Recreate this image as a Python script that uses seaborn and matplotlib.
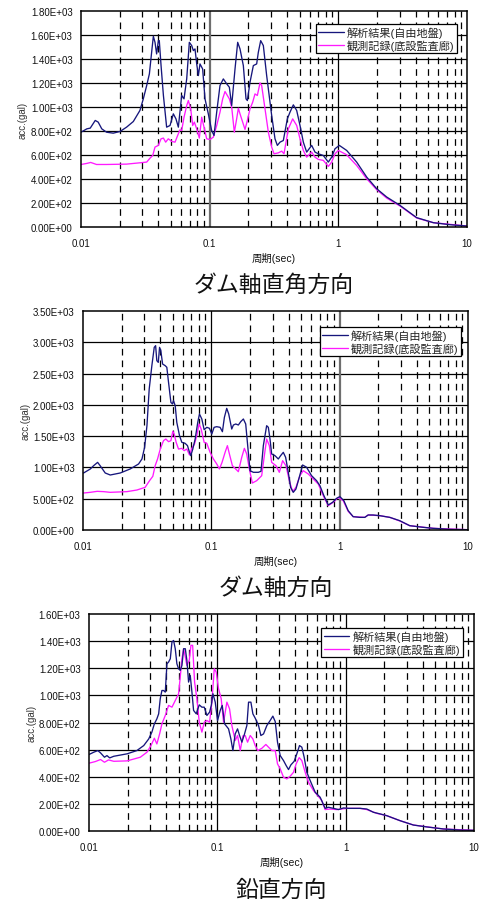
import matplotlib
matplotlib.use("Agg")
import matplotlib.pyplot as plt
from matplotlib.ticker import FixedLocator, FormatStrFormatter, NullLocator
import seaborn as sns

# ---- response spectra: period (sec) and acceleration (gal) ----
# dam cross-axis direction
PERP_T_SIM = [0.0100, 0.0111, 0.0118, 0.0129, 0.0136, 0.0145, 0.0158, 0.0178, 0.0201, 0.0226,
              0.0255, 0.0287, 0.0305, 0.0324, 0.0340, 0.0354, 0.0365, 0.0376, 0.0387, 0.0399,
              0.0406, 0.0419, 0.0437, 0.0463, 0.0492, 0.0522, 0.0547, 0.0571, 0.0606, 0.0632,
              0.0663, 0.0695, 0.0725, 0.0747, 0.0769, 0.0793, 0.0817, 0.0841, 0.0882, 0.0920,
              0.0976, 0.1036, 0.1081, 0.1134, 0.1203, 0.1277, 0.1356, 0.1422, 0.1483, 0.1574,
              0.1651, 0.1721, 0.1827, 0.1916, 0.1963, 0.2059, 0.2185, 0.2319, 0.2389, 0.2492,
              0.2613, 0.2773, 0.3034, 0.3219, 0.3357, 0.3521, 0.3737, 0.4015, 0.4211, 0.4470,
              0.4746, 0.5037, 0.5346, 0.5675, 0.6205, 0.6588, 0.6993, 0.7645, 0.8362, 0.8876,
              0.9421, 1.018, 1.161, 1.388, 1.661, 1.986, 2.375, 3.015, 4.063, 5.474, 7.379, 10.0]
PERP_A_SIM = [790, 818, 824, 888, 874, 818, 790, 782, 796, 832,
              879, 971, 1068, 1179, 1276, 1456, 1589, 1539, 1442, 1553,
              1553, 1345, 1096, 832, 846, 943, 901, 832, 1096, 1068,
              1234, 1539, 1512, 1470, 1484, 1359, 1262, 1359, 1317, 1068,
              943, 804, 763, 957, 1179, 1234, 1193, 1165, 1012, 1317,
              1539, 1484, 1345, 1068, 1054, 1207, 1345, 1359, 1456, 1553,
              1512, 1262, 929, 735, 680, 707, 721, 901, 957, 1018,
              971, 846, 707, 624, 680, 624, 610, 596, 541, 582,
              652, 680, 638, 541, 416, 319, 250, 180, 78, 36, 19, 8]
PERP_T_OBS = [0.0100, 0.0111, 0.0119, 0.0132, 0.0158, 0.0226, 0.0287, 0.0324, 0.0344, 0.0361,
              0.0376, 0.0399, 0.0419, 0.0437, 0.0455, 0.0477, 0.0507, 0.0538, 0.0564, 0.0588,
              0.0606, 0.0632, 0.0663, 0.0683, 0.0712, 0.0738, 0.0760, 0.0793, 0.0831, 0.0867,
              0.0904, 0.0948, 0.1006, 0.1068, 0.1134, 0.1203, 0.1262, 0.1316, 0.1372, 0.1422,
              0.1483, 0.1555, 0.1621, 0.1671, 0.1721, 0.1805, 0.1882, 0.1963, 0.2059, 0.2159,
              0.2251, 0.2347, 0.2462, 0.2536, 0.2692, 0.2858, 0.3034, 0.3162, 0.3418, 0.3628,
              0.3781, 0.4088, 0.4417, 0.4746, 0.5037, 0.5346, 0.5675, 0.6205, 0.6588, 0.6993,
              0.7645, 0.8362, 0.8876, 0.9421, 1.000, 1.161, 1.388, 1.661, 1.986, 2.375,
              3.015, 4.063, 5.474, 10.0]
PERP_A_OBS = [521, 530, 538, 521, 521, 524, 535, 541, 574, 596,
              666, 680, 735, 741, 707, 735, 713, 707, 763, 810,
              804, 915, 1012, 1054, 985, 846, 874, 818, 741, 915,
              832, 735, 729, 749, 846, 957, 1068, 1129, 1096, 1068,
              999, 790, 901, 990, 943, 874, 813, 888, 985, 1040,
              1109, 1096, 1201, 1179, 985, 790, 666, 610, 618, 632,
              610, 818, 901, 846, 735, 638, 582, 624, 582, 563,
              555, 505, 541, 610, 638, 602, 513, 402, 311, 241,
              175, 75, 36, 8]

# dam axis direction
AXIAL_T_SIM = [0.0101, 0.0114, 0.0121, 0.0130, 0.0136, 0.0149, 0.0163, 0.0195, 0.0233, 0.0271,
               0.0288, 0.0302, 0.0315, 0.0328, 0.0344, 0.0359, 0.0368, 0.0376, 0.0386, 0.0395,
               0.0404, 0.0417, 0.0437, 0.0450, 0.0464, 0.0484, 0.0498, 0.0507, 0.0523, 0.0538,
               0.0565, 0.0589, 0.0625, 0.0652, 0.0676, 0.0692, 0.0717, 0.0748, 0.0784, 0.0808,
               0.0843, 0.0879, 0.0922, 0.0967, 0.1008, 0.1051, 0.1102, 0.1170, 0.1220, 0.1264,
               0.1318, 0.1366, 0.1442, 0.1486, 0.1549, 0.1624, 0.1694, 0.1777, 0.1853, 0.1920,
               0.2002, 0.2125, 0.2325, 0.2438, 0.2542, 0.2698, 0.2781, 0.2865, 0.2952, 0.3133,
               0.3326, 0.3467, 0.3637, 0.3793, 0.3978, 0.4147, 0.4351, 0.4563, 0.4844, 0.5142,
               0.5525, 0.6043, 0.6609, 0.7015, 0.7535, 0.8142, 0.8802, 0.9454, 1.004, 1.078,
               1.165, 1.274, 1.436, 1.570, 1.667, 1.823, 2.055, 2.458, 2.939, 3.516,
               4.463, 5.339, 7.194, 10.0]
AXIAL_A_SIM = [911, 975, 1028, 1081, 1028, 911, 879, 911, 975, 1055,
               1135, 1321, 1667, 2253, 2626, 2919, 2946, 2706, 2679, 2919,
               2866, 2653, 2626, 2600, 2360, 2040, 2014, 2067, 1987, 1721,
               1508, 1401, 1385, 1348, 1241, 1188, 1294, 1454, 1721, 1854,
               1774, 1603, 1641, 1625, 1534, 1641, 1651, 1641, 1571, 1800,
               1944, 1854, 1614, 1678, 1694, 1678, 1731, 1774, 1694, 1348,
               948, 922, 922, 938, 1348, 1667, 1641, 1454, 1215, 1188,
               1135, 1188, 1241, 1161, 922, 682, 602, 655, 842, 1039,
               1002, 868, 788, 709, 549, 400, 442, 506, 533, 469,
               309, 213, 202, 202, 240, 240, 229, 202, 149, 69,
               43, 27, 11, 5]
AXIAL_T_OBS = [0.0101, 0.0114, 0.0129, 0.0145, 0.0163, 0.0220, 0.0263, 0.0305, 0.0330, 0.0350,
               0.0365, 0.0381, 0.0400, 0.0424, 0.0442, 0.0464, 0.0484, 0.0501, 0.0513, 0.0532,
               0.0555, 0.0589, 0.0614, 0.0644, 0.0676, 0.0704, 0.0739, 0.0770, 0.0803, 0.0833,
               0.0879, 0.0922, 0.0978, 0.1038, 0.1102, 0.1156, 0.1212, 0.1280, 0.1334, 0.1383,
               0.1459, 0.1531, 0.1624, 0.1725, 0.1809, 0.1886, 0.1978, 0.2087, 0.2256, 0.2468,
               0.2588, 0.2698, 0.2831, 0.2952, 0.3190, 0.3387, 0.3594, 0.3815, 0.4050, 0.4299,
               0.4563, 0.4902, 0.5203, 0.5692, 0.6226, 0.6808, 0.7445, 0.8142, 0.8908, 0.9741,
               1.065, 1.165, 1.274, 1.570, 1.667, 2.055, 2.458, 2.939, 3.516, 5.339, 10.0]
AXIAL_A_OBS = [591, 602, 618, 613, 602, 613, 639, 682, 788, 858,
               1028, 1135, 1294, 1428, 1454, 1412, 1428, 1577, 1534, 1401,
               1294, 1305, 1268, 1294, 1199, 1305, 1374, 1508, 1694, 1614,
               1401, 1385, 1241, 1135, 1055, 975, 1081, 1241, 1348, 1215,
               1028, 985, 932, 1161, 1305, 1215, 975, 751, 788, 868,
               1188, 1454, 1348, 1081, 1028, 922, 1108, 1028, 788, 613,
               682, 868, 948, 895, 815, 735, 549, 389, 442, 522,
               469, 298, 213, 202, 240, 229, 202, 144, 69, 27, 5]

# vertical direction
VERT_T_SIM = [0.0100, 0.0109, 0.0117, 0.0123, 0.0132, 0.0138, 0.0145, 0.0156, 0.0198, 0.0236,
              0.0267, 0.0292, 0.0309, 0.0323, 0.0338, 0.0349, 0.0359, 0.0370, 0.0381, 0.0393,
              0.0405, 0.0417, 0.0430, 0.0443, 0.0456, 0.0470, 0.0484, 0.0499, 0.0514, 0.0530,
              0.0546, 0.0563, 0.0579, 0.0597, 0.0615, 0.0634, 0.0653, 0.0685, 0.0723, 0.0758,
              0.0791, 0.0829, 0.0870, 0.0897, 0.0924, 0.0963, 0.1004, 0.1053, 0.1092, 0.1139,
              0.1223, 0.1275, 0.1322, 0.1378, 0.1437, 0.1490, 0.1554, 0.1629, 0.1699, 0.1751,
              0.1826, 0.1892, 0.1973, 0.2094, 0.2184, 0.2291, 0.2432, 0.2582, 0.2708, 0.2825,
              0.2944, 0.3090, 0.3280, 0.3440, 0.3587, 0.3739, 0.3970, 0.4164, 0.4368, 0.4555,
              0.4750, 0.4983, 0.5289, 0.5784, 0.6326, 0.6920, 0.7346, 0.8035, 0.8790, 0.9614,
              1.051, 1.185, 1.296, 1.461, 1.646, 1.855, 2.091, 2.655, 3.373, 4.283,
              5.774, 7.784, 10.0]
VERT_A_SIM = [564, 581, 593, 576, 544, 556, 539, 551, 569, 593,
              630, 679, 729, 790, 827, 864, 975, 1036, 1036, 1024,
              1233, 1246, 1270, 1393, 1405, 1344, 1233, 1196, 1184, 1221,
              1344, 1344, 1258, 1098, 1147, 1024, 889, 864, 930, 913,
              913, 852, 876, 926, 1012, 950, 815, 889, 926, 790,
              753, 679, 593, 716, 753, 704, 655, 716, 778, 950,
              950, 864, 832, 778, 704, 716, 778, 815, 847, 807,
              655, 556, 519, 482, 453, 487, 514, 569, 630, 618,
              544, 433, 372, 286, 249, 167, 175, 167, 158, 170,
              167, 167, 167, 162, 138, 126, 113, 76, 44, 30,
              15, 7, 5]
VERT_T_OBS = [0.0100, 0.0112, 0.0123, 0.0132, 0.0142, 0.0156, 0.0198, 0.0251, 0.0283, 0.0304,
              0.0323, 0.0338, 0.0355, 0.0370, 0.0393, 0.0417, 0.0443, 0.0470, 0.0499, 0.0514,
              0.0530, 0.0546, 0.0563, 0.0579, 0.0604, 0.0623, 0.0642, 0.0665, 0.0693, 0.0723,
              0.0758, 0.0791, 0.0829, 0.0870, 0.0907, 0.0946, 0.0980, 0.1022, 0.1072, 0.1118,
              0.1187, 0.1245, 0.1298, 0.1378, 0.1437, 0.1508, 0.1582, 0.1649, 0.1720, 0.1804,
              0.1892, 0.1973, 0.2069, 0.2223, 0.2389, 0.2505, 0.2660, 0.2825, 0.2944, 0.3090,
              0.3280, 0.3481, 0.3695, 0.3923, 0.4115, 0.4342, 0.4555, 0.4836, 0.5134, 0.5614,
              0.6140, 0.6518, 0.6920, 0.7569, 0.8531, 1.020, 1.296, 1.461, 1.748, 2.091,
              2.655, 3.373, 5.774, 10.0]
VERT_A_OBS = [500, 512, 527, 507, 524, 514, 517, 544, 581, 630,
              684, 642, 716, 790, 852, 926, 913, 962, 1012, 1135,
              1270, 1344, 1283, 1221, 1258, 1369, 1369, 1098, 975, 802,
              729, 802, 815, 802, 950, 1196, 1172, 1049, 975, 802,
              950, 901, 778, 667, 704, 593, 701, 704, 655, 704,
              679, 630, 593, 610, 638, 618, 593, 593, 495, 458,
              396, 384, 404, 433, 495, 541, 519, 433, 359, 298,
              254, 224, 158, 162, 158, 167, 167, 158, 130, 113,
              76, 44, 15, 5]

SERIES_SIM = "解析結果(自由地盤)"
SERIES_OBS = "観測記録(底設監査廊)"
X_TICKS = [0.01, 0.1, 1, 10]
X_TICK_LABELS = ["0.01", "0.1", "1", "10"]
X_LABEL = "周期(sec)"
Y_LABEL = "acc.(gal)"
TITLES = ["ダム軸直角方向", "ダム軸方向", "鉛直方向"]

COLOR_SIM = "#16167c"
COLOR_OBS = "#ff1aff"

sns.set_theme(style="white")
plt.rcParams["font.family"] = ["Liberation Sans", "Noto Sans CJK JP", "DejaVu Sans"]
plt.rcParams["lines.scale_dashes"] = False

W, H = 482, 903
fig = plt.figure(figsize=(W / 100, H / 100), dpi=100)
fig.patch.set_facecolor("white")


def px_axes(left, top, right, bottom):
    return fig.add_axes([left / W, 1 - bottom / H, (right - left) / W, (bottom - top) / H])


panels = [
    dict(box=(81, 12, 467, 228), t_sim=PERP_T_SIM, a_sim=PERP_A_SIM, t_obs=PERP_T_OBS, a_obs=PERP_A_OBS,
         ymax=1800, ystep=200, leg=(0.974, 0.94), grey_x=[0.1], title_y=285),
    dict(box=(83, 312, 468, 531), t_sim=AXIAL_T_SIM, a_sim=AXIAL_A_SIM, t_obs=AXIAL_T_OBS, a_obs=AXIAL_A_OBS,
         ymax=3500, ystep=500, leg=(0.982, 0.927), grey_x=[1], title_y=588),
    dict(box=(89, 615, 474, 832), t_sim=VERT_T_SIM, a_sim=VERT_A_SIM, t_obs=VERT_T_OBS, a_obs=VERT_A_OBS,
         ymax=1600, ystep=200, leg=(0.971, 0.935), grey_x=[], title_y=890),
]

for p, title in zip(panels, TITLES):
    ax = px_axes(*p["box"])
    ax.set_facecolor("white")
    ax.set_xscale("log")
    ax.set_xlim(0.01, 10)
    ax.set_ylim(0, p["ymax"])

    # grid: solid horizontals, solid decades, dashed minor periods
    yt = list(range(0, p["ymax"] + 1, p["ystep"]))
    for y in yt[1:-1]:
        ax.axhline(y, color="black", lw=0.9, zorder=1)
    for d in [0.1, 1]:
        if d in p["grey_x"]:
            ax.axvline(d, color="#6e6e6e", lw=1.6, zorder=1)
        else:
            ax.axvline(d, color="black", lw=0.9, zorder=1)
    for d in [0.01, 0.1, 1]:
        for k in range(2, 10):
            ax.axvline(k * d, color="black", lw=0.9, ls=(0, (4.8, 3.6)), zorder=1)

    sns.lineplot(x=p["t_obs"], y=p["a_obs"], ax=ax, color=COLOR_OBS, lw=0.95,
                 label=SERIES_OBS, zorder=3, legend=False)
    sns.lineplot(x=p["t_sim"], y=p["a_sim"], ax=ax, color=COLOR_SIM, lw=0.95,
                 label=SERIES_SIM, zorder=4, legend=False)

    ax.xaxis.set_major_locator(FixedLocator(X_TICKS))
    ax.set_xticklabels(X_TICK_LABELS)
    ax.xaxis.set_minor_locator(NullLocator())
    ax.yaxis.set_major_locator(FixedLocator(yt))
    ax.yaxis.set_major_formatter(FormatStrFormatter("%.2E"))
    ax.tick_params(axis="y", length=0, pad=6, labelsize=7, labelcolor="#111111")
    ax.tick_params(axis="x", length=0, pad=8, labelsize=7, labelcolor="#111111")

    for s in ax.spines.values():
        s.set_color("black")
        s.set_linewidth(1.1)
        s.set_zorder(5)

    ax.set_xlabel(X_LABEL, fontsize=7.5, color="#111111")
    ax.xaxis.set_label_coords(0.5, -0.115)
    ax.set_ylabel(Y_LABEL, fontsize=7, color="#333333")
    ax.yaxis.set_label_coords(-0.137, 0.5)

    handles, labels = ax.get_legend_handles_labels()
    order = [labels.index(SERIES_SIM), labels.index(SERIES_OBS)]
    leg = ax.legend([handles[i] for i in order], [labels[i] for i in order],
                    loc="upper right", bbox_to_anchor=p["leg"], frameon=True, fancybox=False,
                    edgecolor="black", framealpha=1, fontsize=8, handlelength=2.3,
                    handletextpad=0.3, borderpad=0.22, labelspacing=0.1, borderaxespad=0)
    leg.get_frame().set_linewidth(0.9)
    leg.set_zorder(6)

    cx = (p["box"][0] + p["box"][2]) / 2 / W
    fig.text(cx, 1 - p["title_y"] / H, title, ha="center", va="center", fontsize=16.5,
             family=["Noto Sans CJK JP"], color="#111111")

fig.savefig("out.png", dpi=100, facecolor="white")
